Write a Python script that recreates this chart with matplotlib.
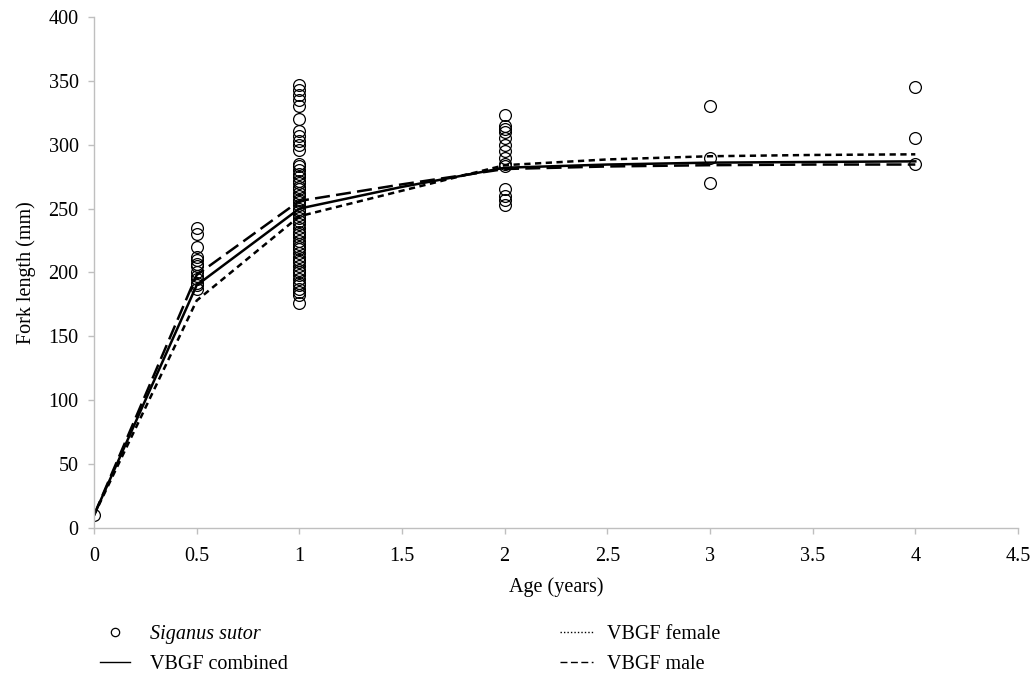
import matplotlib
matplotlib.use("Agg")
import matplotlib.pyplot as plt
from matplotlib.lines import Line2D

plt.rcParams['font.family'] = ['Liberation Serif', 'DejaVu Serif']

# Observed data (age, fork length)
ages_obs = [0.0]*1 + [0.5]*13 + [1.0]*54 + [2.0]*14 + [3.0]*3 + [4.0]*3
fl_obs = ([10]
          + [235, 230, 220, 212, 210, 207, 205, 200, 197, 195, 192, 190, 187]
          + [347, 343, 339, 335, 330, 320, 311, 307, 303, 300, 296, 285, 283,
             280, 277, 275, 272, 270, 267, 265, 262, 260, 257, 255, 253, 250,
             248, 245, 243, 240, 238, 235, 232, 230, 228, 225, 222, 220, 218,
             215, 212, 210, 208, 205, 202, 200, 198, 195, 192, 190, 187, 185,
             182, 176]
          + [323, 315, 312, 310, 305, 300, 295, 290, 285, 283, 265, 260, 257, 253]
          + [330, 290, 270]
          + [345, 305, 285])

# VBGF curves
ages_fit = [0, 0.5, 1, 1.5, 2, 2.5, 3, 3.5, 4]
vbgf_combined = [10, 190, 250, 267, 282, 284.5, 286, 286.5, 287]
vbgf_female = [10, 178, 244, 264, 284, 288.5, 291, 292, 292.5]
vbgf_male = [10, 198, 256, 269, 281, 283, 284, 284.5, 284.5]

FS = 14.5
AXC = '#bfbfbf'

fig = plt.figure(figsize=(10.34, 6.77), dpi=100)
ax = fig.add_axes([0.0909, 0.2201, 0.8936, 0.7548])

ax.plot(ages_fit, vbgf_combined, color='black', lw=1.8, ls='-')
ax.plot(ages_fit, vbgf_female, color='black', lw=1.8, ls=(0, (2.5, 1.8)))
ax.plot(ages_fit, vbgf_male, color='black', lw=1.8, ls=(0, (6, 2.5)))
ax.plot(ages_obs, fl_obs, ls='none', marker='o', ms=8.5, mfc='none',
        mec='black', mew=0.9)

ax.set_xlim(0, 4.5)
ax.set_ylim(0, 400)
ax.set_xticks([0, 0.5, 1, 1.5, 2, 2.5, 3, 3.5, 4, 4.5])
ax.set_xticklabels(['0', '0.5', '1', '1.5', '2', '2.5', '3', '3.5', '4', '4.5'])
ax.set_yticks(range(0, 401, 50))
for s in ['top', 'right']:
    ax.spines[s].set_visible(False)
for s in ['left', 'bottom']:
    ax.spines[s].set_color(AXC)
    ax.spines[s].set_linewidth(1.0)
ax.tick_params(axis='both', labelsize=FS, direction='out', color=AXC, width=1.0)
ax.tick_params(axis='y', length=4, pad=7)
ax.tick_params(axis='x', length=4.5, pad=9)
ax.set_xlabel('Age (years)', fontsize=FS, labelpad=8)
ax.set_ylabel('Fork length (mm)', fontsize=FS, labelpad=9)

h_obs = Line2D([], [], ls='none', marker='o', ms=6, mfc='none', mec='black', mew=0.9)
h_comb = Line2D([], [], color='black', lw=1.0, ls='-')
h_fem = Line2D([], [], color='black', lw=1.0, ls=(0, (1, 1.5)))
h_male = Line2D([], [], color='black', lw=1.0, ls=(0, (5, 2.5)))

leg1 = fig.legend([h_obs, h_comb], ['Siganus sutor', 'VBGF combined'],
                  loc='upper left', bbox_to_anchor=(0.0967, 0.077),
                  borderaxespad=0, borderpad=0,
                  frameon=False, fontsize=FS, handlelength=1.5,
                  handletextpad=1.0, labelspacing=0.55)
leg1.get_texts()[0].set_fontstyle('italic')
leg2 = fig.legend([h_fem, h_male], ['VBGF female', 'VBGF male'],
                  loc='upper left', bbox_to_anchor=(0.5416, 0.077),
                  borderaxespad=0, borderpad=0,
                  frameon=False, fontsize=FS, handlelength=1.65,
                  handletextpad=0.7, labelspacing=0.55)

fig.savefig('out.png', dpi=100)
